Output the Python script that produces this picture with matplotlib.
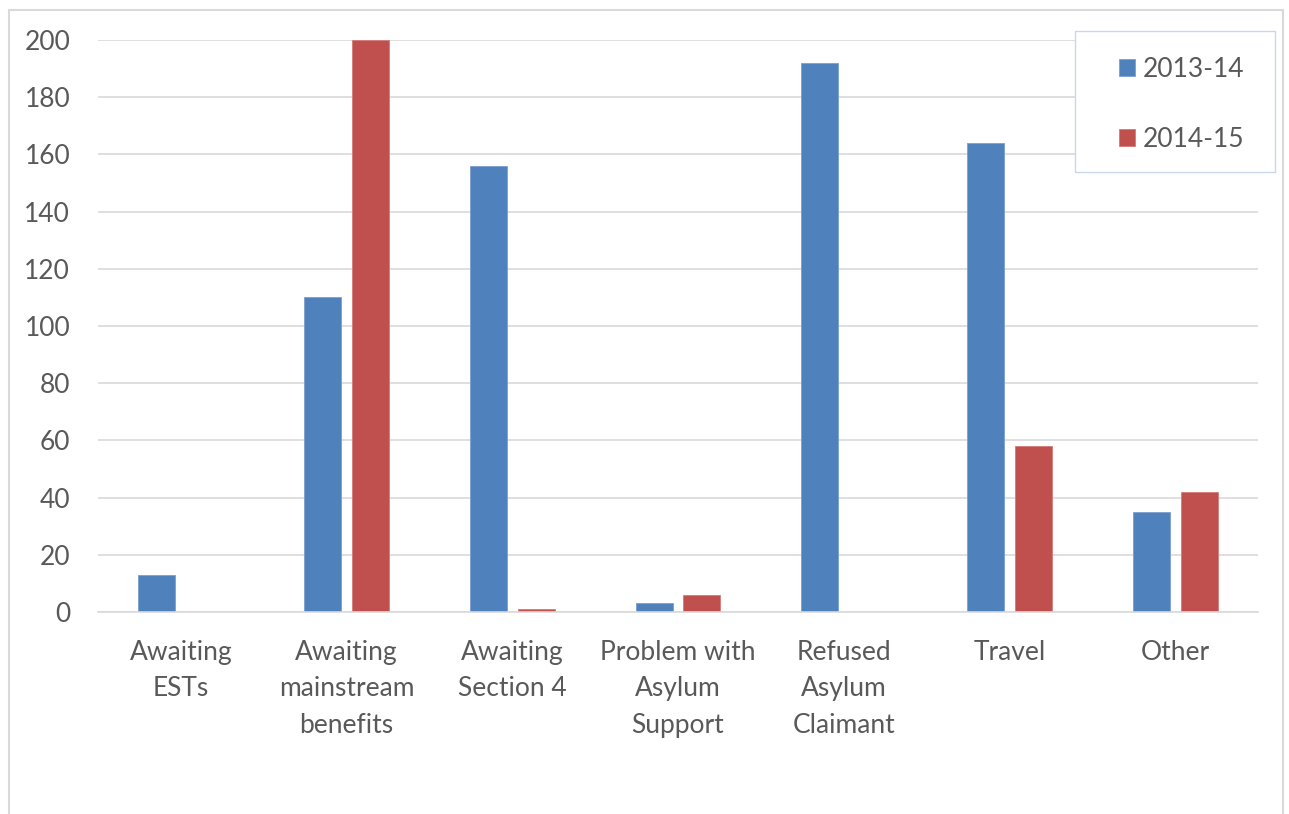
import matplotlib
matplotlib.use("Agg")
import matplotlib.pyplot as plt
from matplotlib.patches import Rectangle
import numpy as np

categories = ["Awaiting\nESTs", "Awaiting\nmainstream\nbenefits", "Awaiting\nSection 4",
              "Problem with\nAsylum\nSupport", "Refused\nAsylum\nClaimant", "Travel", "Other"]
series_names = ["2013-14", "2014-15"]
values_2013 = [13, 110, 156, 3, 192, 164, 35]
values_2014 = [0, 200, 1, 6, 0, 58, 42]
yticks = [0, 20, 40, 60, 80, 100, 120, 140, 160, 180, 200]

blue = "#4F81BD"
red = "#C0504D"
grid = "#D9D9D9"
txt = "#595959"

plt.rcParams['font.family'] = ['Lato', 'DejaVu Sans']

W, H = 1289, 814
fig = plt.figure(figsize=(W / 100, H / 100), dpi=100)
ax = fig.add_axes([98 / W, 1 - 612 / H, (1258 - 98) / W, (612 - 40) / H])

x = np.arange(len(categories))
bw = 0.223
gap = 0.066
off = (bw + gap) / 2
ax.bar(x - off, values_2013, width=bw, color=blue, edgecolor="#7A9FD0", linewidth=0.6, label=series_names[0], zorder=3)
ax.bar(x + off, values_2014, width=bw, color=red, edgecolor="#D47B78", linewidth=0.6, label=series_names[1], zorder=3)

fs = 19
ax.set_xlim(-0.5, len(categories) - 0.5)
ax.set_ylim(0, 200)
ax.set_yticks(yticks)
ax.set_xticks(x)
ax.set_xticklabels(categories, fontsize=fs, color=txt, linespacing=1.57, va="top")
ax.tick_params(axis="y", labelsize=fs, colors=txt, length=0, pad=20)
ax.tick_params(axis="x", length=0, pad=20)
ax.yaxis.grid(True, color=grid, linewidth=1.2, zorder=0)
for s in ["top", "right", "left"]:
    ax.spines[s].set_visible(False)
ax.spines["bottom"].set_color(grid)
ax.spines["bottom"].set_linewidth(1.2)
ax.spines["bottom"].set_zorder(4)

# outer chart border
fig.patches.append(Rectangle((9 / W, -0.05), (1283 - 9) / W, 1.05 - 10 / H,
                             transform=fig.transFigure, fill=False,
                             edgecolor="#D9D9D9", linewidth=1.5))
# legend frame
fig.patches.append(Rectangle((1075 / W, 1 - 172 / H), 200 / W, 141 / H,
                             transform=fig.transFigure, facecolor="white",
                             edgecolor="#C9D7EC", linewidth=1.0, zorder=5))
leg = fig.legend(loc="upper left", bbox_to_anchor=(1119 / W, 1 - 57 / H),
                 frameon=False, fontsize=fs, labelspacing=1.7,
                 handlelength=0.6, handleheight=0.6, handletextpad=0.3,
                 borderpad=0, borderaxespad=0)
leg.set_zorder(6)
for t in leg.get_texts():
    t.set_color(txt)

fig.savefig("out.png", dpi=100)
